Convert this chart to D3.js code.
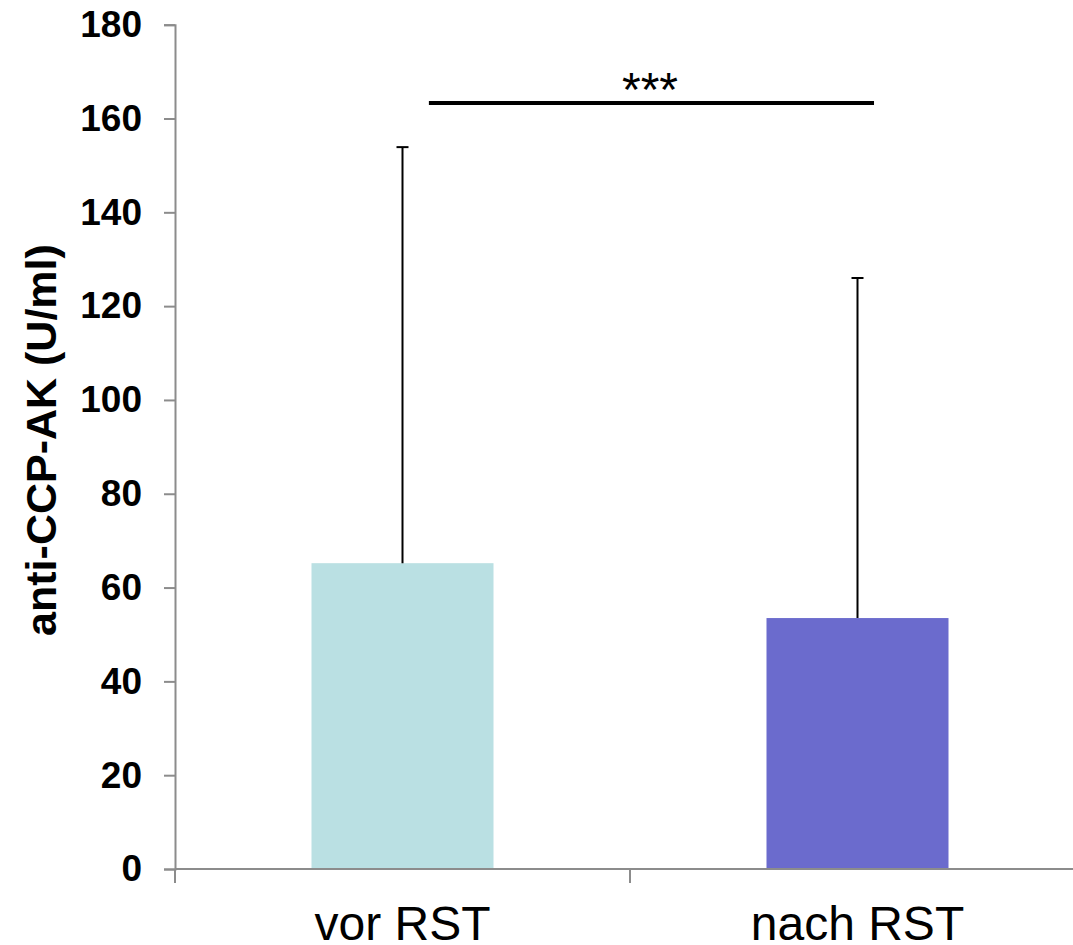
<!DOCTYPE html>
<html>
<head>
<meta charset="utf-8">
<script src="https://cdn.jsdelivr.net/npm/d3@7"></script>
<style>
  body { margin: 0; background: #fff; }
  svg { display: block; font-family: Arial, "Liberation Sans", sans-serif; }
</style>
</head>
<body>
<div id="viz"></div>
<script>
// chart values
var categories = ["vor RST", "nach RST"];
var means = [65.2, 53.5];
var upperErrors = [153.9, 126.0];
var barColors = ["#bae0e3", "#6b6bcd"];
var yTicks = [0, 20, 40, 60, 80, 100, 120, 140, 160, 180];
var yLabel = "anti-CCP-AK (U/ml)";
var sigLevel = 163.3;
var sigText = "***";

var screenWidth = 1073, screenHeight = 945;
var plotLeft = 175, plotRight = 1085, plotTop = 24.7, plotBottom = 869;

var svg = d3.select("#viz").append("svg")
    .attr("width", screenWidth)
    .attr("height", screenHeight);

var x = d3.scaleBand().domain(categories).range([plotLeft, plotRight]);
var y = d3.scaleLinear().domain([0, 180]).range([plotBottom, plotTop]);
var bw = x.bandwidth(), barW = bw * 0.4;

// bars
svg.selectAll("rect.bar")
   .data(categories)
   .enter().append("rect")
   .attr("class", "bar")
   .attr("x", function(d) { return x(d) + (bw - barW) / 2; })
   .attr("y", function(d, i) { return y(means[i]); })
   .attr("width", barW)
   .attr("height", function(d, i) { return plotBottom - y(means[i]); })
   .attr("fill", function(d, i) { return barColors[i]; });

// error bars (upper only)
var err = svg.selectAll("g.err")
   .data(categories)
   .enter().append("g")
   .attr("class", "err");
err.append("line")
   .attr("x1", function(d) { return x(d) + bw / 2; })
   .attr("x2", function(d) { return x(d) + bw / 2; })
   .attr("y1", function(d, i) { return y(means[i]); })
   .attr("y2", function(d, i) { return y(upperErrors[i]); })
   .attr("stroke", "#000").attr("stroke-width", 2);
err.append("line")
   .attr("x1", function(d) { return x(d) + bw / 2 - 6; })
   .attr("x2", function(d) { return x(d) + bw / 2 + 6; })
   .attr("y1", function(d, i) { return y(upperErrors[i]); })
   .attr("y2", function(d, i) { return y(upperErrors[i]); })
   .attr("stroke", "#000").attr("stroke-width", 2);

// y axis
var yAxis = svg.append("g")
   .attr("transform", "translate(" + plotLeft + ",0)")
   .call(d3.axisLeft(y).tickValues(yTicks).tickSize(11).tickPadding(22));
yAxis.select(".domain").attr("stroke", "#8c8c8c").attr("stroke-width", 2);
yAxis.selectAll(".tick line").attr("stroke", "#8c8c8c").attr("stroke-width", 2);
yAxis.selectAll(".tick text")
   .attr("fill", "#000")
   .style("font-size", "37px")
   .style("font-weight", "bold");

// x axis: ticks sit between the categories
var xAxis = svg.append("g")
   .attr("transform", "translate(0," + plotBottom + ")");
xAxis.append("line")
   .attr("x1", plotLeft).attr("x2", plotRight)
   .attr("stroke", "#8c8c8c").attr("stroke-width", 2);
xAxis.selectAll("line.tk")
   .data([plotLeft, x(categories[1])])
   .enter().append("line")
   .attr("class", "tk")
   .attr("x1", function(d) { return d; })
   .attr("x2", function(d) { return d; })
   .attr("y1", 0).attr("y2", 14)
   .attr("stroke", "#8c8c8c").attr("stroke-width", 2);
xAxis.selectAll("text")
   .data(categories)
   .enter().append("text")
   .attr("x", function(d) { return x(d) + bw / 2; })
   .attr("y", 71)
   .attr("text-anchor", "middle")
   .style("font-size", "48px")
   .text(function(d) { return d; });

// y axis title
svg.append("text")
   .attr("transform", "translate(56,440) rotate(-90)")
   .attr("text-anchor", "middle")
   .style("font-size", "43px")
   .style("font-weight", "bold")
   .text(yLabel);

// significance bracket
var sx1 = x(categories[0]) + bw * 0.558,
    sx2 = x(categories[1]) + bw * 0.5363;
svg.append("line")
   .attr("x1", sx1).attr("x2", sx2)
   .attr("y1", y(sigLevel)).attr("y2", y(sigLevel))
   .attr("stroke", "#000").attr("stroke-width", 4);
svg.append("text")
   .attr("x", 650)
   .attr("y", y(sigLevel) + 3)
   .attr("text-anchor", "middle")
   .style("font-size", "48px")
   .text(sigText);
</script>
</body>
</html>
